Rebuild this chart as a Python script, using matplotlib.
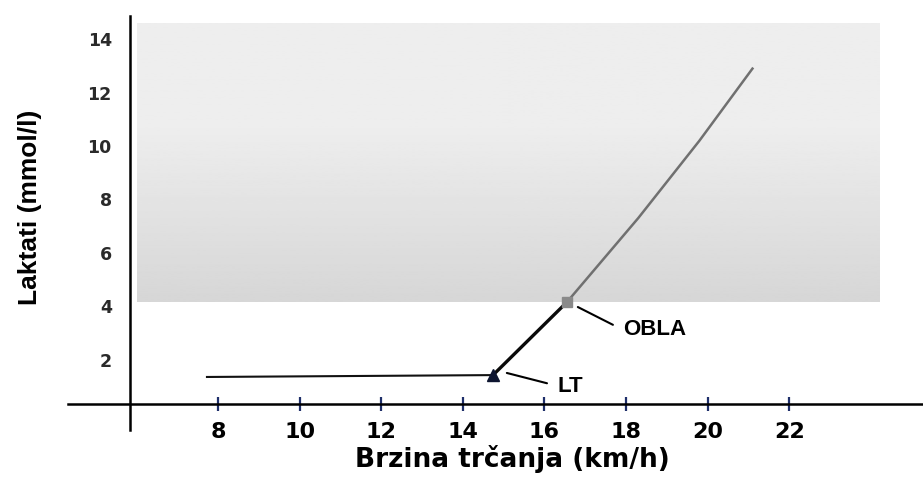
import numpy as np
import matplotlib
matplotlib.use('Agg')
import matplotlib.pyplot as plt

# speeds (km/h) and lactate (mmol/l)
speed_base = [7.73, 14.74]
lact_base = [1.35, 1.42]
speed_mid = [14.74, 16.55]
lact_mid = [1.42, 4.15]
speed_high = [16.55, 18.3, 19.8, 21.1]
lact_high = [4.15, 7.3, 10.2, 12.9]

lt_point = (14.74, 1.42)
obla_point = (16.55, 4.15)

x_ticks = [8, 10, 12, 14, 16, 18, 20, 22]
y_ticks = [2, 4, 6, 8, 10, 12, 14]

fig = plt.figure(figsize=(9.23, 4.82), dpi=100)
ax = fig.add_axes([0, 0, 1, 1])
ax.set_xlim(2.657, 25.28)
ax.set_ylim(-2.584, 15.47)

# shaded zone above OBLA, darker at the bottom
grad = np.linspace(0, 1, 200).reshape(-1, 1)
shade = 0.84 + 0.09 * np.clip(grad * 1.6, 0, 1)
ax.imshow(shade, cmap='gray', vmin=0, vmax=1, origin='lower', aspect='auto',
          extent=(6.01, 24.2, 4.15, 14.6), zorder=0)

ax.plot(speed_base, lact_base, color='#111111', lw=1.5, zorder=3)
ax.plot(speed_mid, lact_mid, color='#0a0a0a', lw=2.4, zorder=3)
ax.plot(speed_high, lact_high, color='#707070', lw=1.8, zorder=3)

ax.plot(*lt_point, marker='^', color='#0d1530', ms=8, zorder=4)
ax.plot(*obla_point, marker='s', color='#8a8a8a', ms=7, zorder=4)

ax.annotate('LT', xy=(15.08, 1.50), xytext=(16.33, 1.01),
            fontsize=16, fontweight='bold', family='Liberation Sans', va='center',
            arrowprops=dict(arrowstyle='-', lw=1.5, color='black',
                            shrinkA=6, shrinkB=0, relpos=(0, 0.5)))
ax.annotate('OBLA', xy=(16.82, 3.97), xytext=(17.93, 3.11),
            fontsize=16, fontweight='bold', family='Liberation Sans', va='center',
            arrowprops=dict(arrowstyle='-', lw=1.5, color='black',
                            shrinkA=6, shrinkB=0, relpos=(0, 0.5)))

# axes crossing away from the origin
for side in ['top', 'right']:
    ax.spines[side].set_visible(False)
ax.spines['left'].set_position(('data', 5.84))
ax.spines['left'].set_bounds(-0.64, 14.87)
ax.spines['bottom'].set_position(('data', 0.337))
ax.spines['bottom'].set_bounds(4.32, 25.28)
for side in ['left', 'bottom']:
    ax.spines[side].set_linewidth(1.8)
    ax.spines[side].set_color('black')

ax.set_xticks(x_ticks)
ax.set_xticklabels([str(t) for t in x_ticks], fontsize=16, fontweight='bold',
                   family='DejaVu Sans')
ax.tick_params(axis='x', direction='inout', length=9.5, width=1.6,
               color='#1f2f6a', pad=8)
ax.set_yticks(y_ticks)
ax.set_yticklabels([str(t) for t in y_ticks], fontsize=12.5, fontweight='bold',
                   family='DejaVu Sans', color='#2a2a2a')
ax.tick_params(axis='y', length=0, pad=13)

ax.set_xlabel('Brzina trčanja (km/h)', fontsize=19, fontweight='bold',
              family='DejaVu Sans')
ax.xaxis.set_label_coords(0.555, 0.077)
ax.set_ylabel('Laktati (mmol/l)', fontsize=19, fontweight='bold',
              family='Liberation Sans')
ax.yaxis.set_label_coords(0.0455, 0.5705)

fig.savefig('out.png', dpi=100)
